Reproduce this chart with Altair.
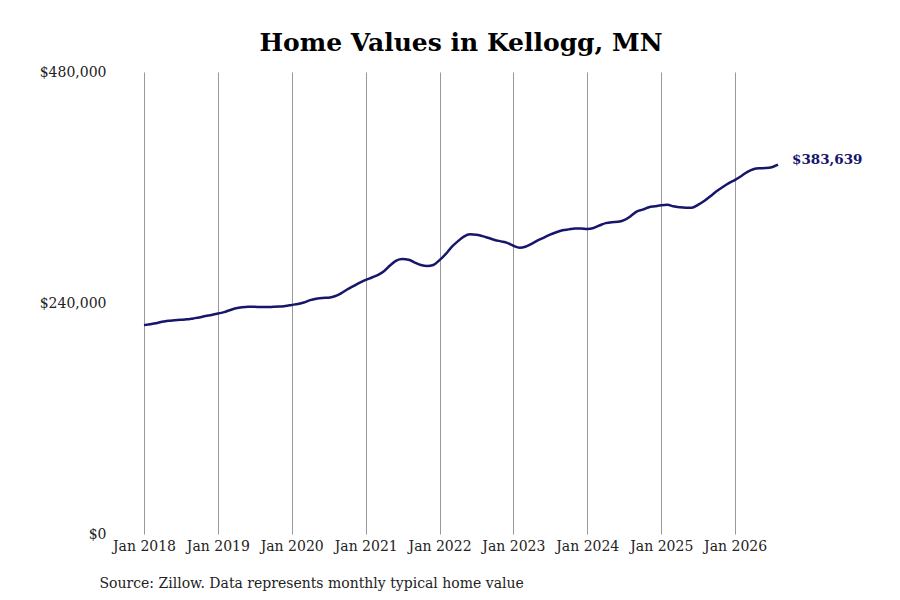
import altair as alt
import pandas as pd

# Typical home value, monthly, Jan 2018 - Aug 2026 (in thousands)
values_2018 = [217, 218, 219, 220.5, 221.5, 222, 222.5, 223, 224, 225, 226.5, 227.5]
values_2019 = [229, 230.5, 232.5, 234.5, 235.5, 236, 236, 235.8, 235.8, 236, 236.3, 237]
values_2020 = [238, 239, 240.5, 243, 244.5, 245.3, 245.5, 247, 250, 254, 257.5, 261]
values_2021 = [264, 266.5, 269, 273, 279, 284, 285.7, 285, 282, 279.5, 278.5, 279.5]
values_2022 = [284.5, 291, 298, 304, 309, 311.3, 311, 309.5, 307.5, 305.5, 304, 302.5]
values_2023 = [299.5, 297.5, 298.5, 301.5, 305, 308, 311, 313.5, 315.5, 316.5, 317.5, 317.5]
values_2024 = [317, 318, 320.5, 323, 324, 324.3, 326, 330, 335, 337, 339.5, 340.5]
values_2025 = [341.5, 342, 340.5, 339.5, 339, 339, 342, 346, 351, 356, 360.5, 364.5]
values_2026 = [368, 372, 376, 379, 380, 380.2, 381, 383.639]

LINE_COLOR = "#16166b"
FONT = "DejaVu Serif"

values = (values_2018 + values_2019 + values_2020 + values_2021 + values_2022
          + values_2023 + values_2024 + values_2025 + values_2026)
dates = pd.date_range("2018-01-01", periods=len(values), freq="MS")
df = pd.DataFrame({"date": dates, "value": [v * 1000 for v in values]})
last = df.tail(1).assign(label=lambda d: d["value"].map(lambda v: f"${v:,.0f}"))

x_scale = alt.Scale(domain=[dates[0].isoformat(), dates[-1].isoformat()], nice=False)
y_scale = alt.Scale(domain=[0, 480000], nice=False)

line = alt.Chart(df).mark_line(color=LINE_COLOR, strokeWidth=2.5, interpolate="monotone").encode(
    x=alt.X(
        "date:T",
        scale=x_scale,
        axis=alt.Axis(
            values=[f"{y}-01-01" for y in range(2018, 2027)],
            format="Jan %Y",
            grid=True,
            gridColor="#999999",
            gridWidth=1,
            domain=False,
            ticks=False,
            labelPadding=5,
            labelOverlap=False,
            labelFlush=False,
            labelFont=FONT,
            labelFontSize=14,
            labelColor="#222222",
            title="Source: Zillow. Data represents monthly typical home value",
            titleFont=FONT,
            titleFontSize=14,
            titleFontWeight="normal",
            titleColor="#222222",
            titleAnchor="start",
            titleAlign="left",
            titleBaseline="alphabetic",
            titleX=-45,
            titleY=53,
        ),
    ),
    y=alt.Y(
        "value:Q",
        scale=y_scale,
        axis=alt.Axis(
            values=[0, 240000, 480000],
            format="$,.0f",
            grid=False,
            domain=False,
            ticks=False,
            labelPadding=38,
            labelFont=FONT,
            labelFontSize=14,
            labelColor="#222222",
            title=None,
        ),
    ),
)

label = alt.Chart(last).mark_text(
    align="left", baseline="middle", dx=14, dy=-5,
    font=FONT, fontSize=13.5, fontWeight="bold", color=LINE_COLOR,
).encode(x="date:T", y="value:Q", text="label:N")

chart = (
    alt.layer(line, label)
    .properties(
        width=634,
        height=462,
        autosize=alt.AutoSizeParams(type="none"),
        padding={"left": 136, "top": 64, "right": 114, "bottom": 58},
        title=alt.TitleParams(
            "Home Values in Kellogg, MN",
            font=FONT,
            fontSize=25,
            fontWeight="bold",
            color="#000000",
            anchor="middle",
            offset=9,
        ),
    )
    .configure_view(stroke=None)
)

chart.save("out.html", embed_options={"renderer": "svg", "actions": False})
